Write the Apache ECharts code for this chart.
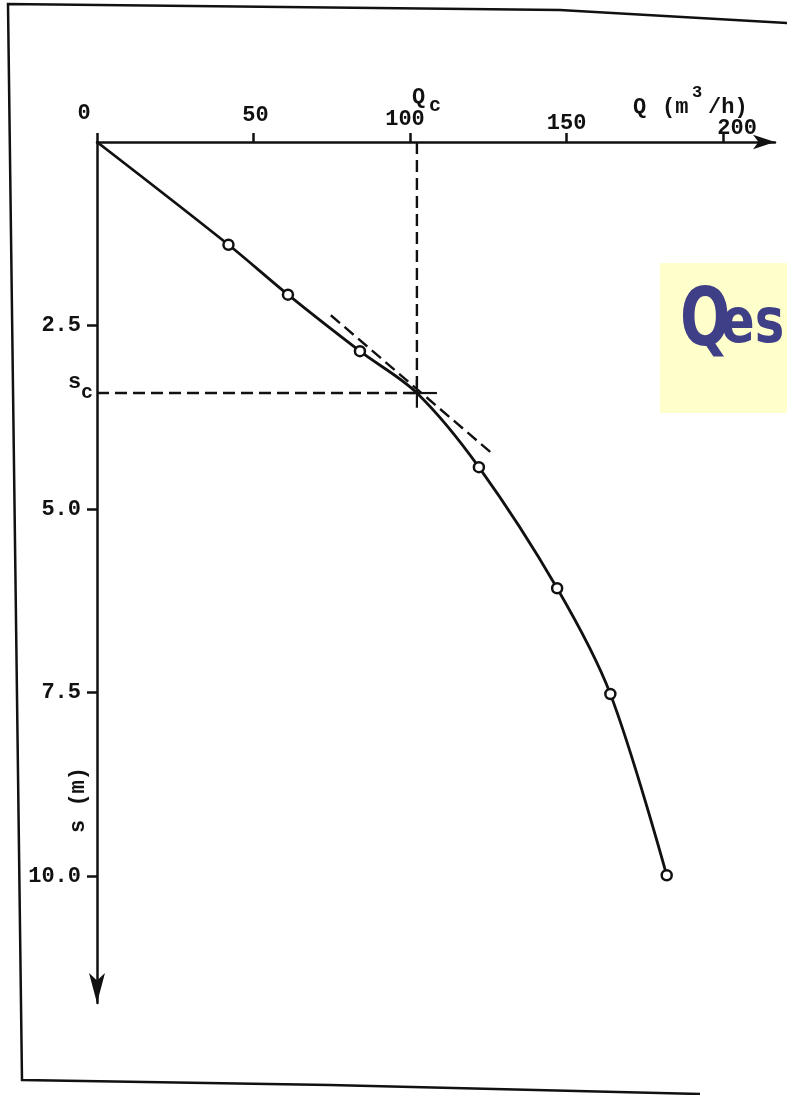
<!DOCTYPE html>
<html>
<head>
<meta charset="utf-8">
<script src="https://cdn.jsdelivr.net/npm/echarts@6/dist/echarts.min.js"></script>
<style>
  html, body { margin: 0; padding: 0; background: #fff; }
  #chart { width: 787px; height: 1095px; }
</style>
</head>
<body>
<div id="chart"></div>
<script>
// axis ticks
const qTicks = [0, 50, 100, 150, 200];
const sTicks = [2.5, 5, 7.5, 10];

// pumping test points: Q (m3/h) vs drawdown s (m)
const qPoints = [42, 61, 84, 122, 147, 164, 182];
const sPoints = [1.40, 2.08, 2.85, 4.43, 6.08, 7.52, 9.99];

// critical point and the tangent drawn through it
const qCrit = 102.2;
const sCrit = 3.42;
const tangentQ = [74.7, 126.1];
const tangentS = [2.36, 4.24];
const crossQ = [100, 108.6];
const crossS = [3.24, 3.62];

const FONT = '"Liberation Mono", "DejaVu Sans Mono", monospace';
const INK = '#111';

// the scanned top axis is a little tilted, so labels drift: [dx, label centre y]
const qLabelPos = { 0: [-13, 113], 50: [2, 115], 100: [-5, 119], 150: [0, 123], 200: [14, 128] };
const AXIS_TOP = 142, LABEL_MARGIN = 6;

const qRich = {};
qTicks.forEach(v => {
  const [dx, cy] = qLabelPos[v];
  qRich['t' + v] = {
    fontFamily: FONT, fontWeight: 'bold', fontSize: 22, color: INK,
    lineHeight: Math.max(2, 2 * (AXIS_TOP - LABEL_MARGIN - cy)),
    padding: [0, dx < 0 ? -2 * dx : 0, 0, dx > 0 ? 2 * dx : 0]
  };
});

// curve runs from the origin through the points, passing the critical point
const curve = [{ value: [0, 0], symbol: 'none' }];
qPoints.forEach((q, i) => {
  const last = curve[curve.length - 1].value[0];
  if (last < qCrit && q > qCrit) curve.push({ value: [qCrit, sCrit], symbol: 'none' });
  curve.push({ value: [q, sPoints[i]] });
});

function seg(data, dashed, width) {
  return {
    type: 'line',
    data,
    symbol: 'none',
    silent: true,
    lineStyle: { color: INK, width: width || 2.4, type: dashed ? [12, 6] : 'solid' },
    z: 3
  };
}

const chart = echarts.init(document.getElementById('chart'));
chart.setOption({
  animation: false,
  backgroundColor: '#fff',
  grid: { left: 97, top: AXIS_TOP, right: 12, bottom: 92 },
  xAxis: {
    type: 'value',
    position: 'top',
    min: 0,
    max: 216.6,
    splitLine: { show: false },
    axisLine: {
      lineStyle: { color: INK, width: 2.5 },
      symbol: ['none', 'arrow'],
      symbolSize: [11, 22]
    },
    axisTick: { customValues: qTicks, length: 9, lineStyle: { color: INK, width: 2.5 } },
    axisLabel: {
      customValues: qTicks,
      margin: LABEL_MARGIN,
      formatter: v => '{t' + v + '|' + v + '}',
      rich: qRich
    }
  },
  yAxis: {
    type: 'value',
    inverse: true,
    min: 0,
    max: 11.73,
    splitLine: { show: false },
    axisLine: {
      lineStyle: { color: INK, width: 2.5 },
      symbol: ['arrow', 'none'],
      symbolSize: [12, 30]
    },
    axisTick: { customValues: sTicks, length: 10, lineStyle: { color: INK, width: 2.5 } },
    axisLabel: {
      customValues: sTicks,
      margin: 16,
      color: INK,
      fontFamily: FONT,
      fontWeight: 'bold',
      fontSize: 22,
      formatter: v => v.toFixed(1)
    }
  },
  series: [
    {
      type: 'line',
      data: curve,
      smooth: 0.33,
      symbol: 'circle',
      symbolSize: 10,
      showAllSymbol: true,
      itemStyle: { color: '#fff', borderColor: INK, borderWidth: 2.5 },
      lineStyle: { color: INK, width: 2.8 },
      z: 5
    },
    seg([[qCrit, 0], [qCrit, sCrit]], true),
    seg([[0, sCrit], [qCrit, sCrit]], true),
    seg([[tangentQ[0], tangentS[0]], [tangentQ[1], tangentS[1]]], true),
    seg([[crossQ[0], sCrit], [crossQ[1], sCrit]], false, 2.2),
    seg([[qCrit, crossS[0]], [qCrit, crossS[1]]], false, 2.2)
  ],
  graphic: [
    {
      type: 'polyline',
      silent: true,
      shape: { points: [[787, 23], [560, 10], [8, 4], [22, 1080], [330, 1085], [700, 1094]] },
      style: { stroke: INK, lineWidth: 2.5, fill: null }
    },
    {
      type: 'rect',
      shape: { x: 660, y: 263, width: 140, height: 150 },
      style: { fill: '#ffffcc' }
    },
    {
      type: 'text', x: 680, y: 324, scaleX: 0.74,
      style: { text: 'Q', fill: '#3f3f88', font: 'bold 80px "DejaVu Sans", sans-serif', verticalAlign: 'middle' }
    },
    {
      type: 'text', x: 721, y: 326, scaleX: 0.8,
      style: { text: 'es', fill: '#3f3f88', font: 'bold 62px "DejaVu Sans", sans-serif', verticalAlign: 'middle' }
    },
    {
      type: 'text', x: 633, y: 96,
      style: { text: 'Q', fill: INK, font: 'bold 22px ' + FONT }
    },
    {
      type: 'text', x: 662, y: 96,
      style: { text: '(m', fill: INK, font: 'bold 22px ' + FONT }
    },
    {
      type: 'text', x: 692, y: 84,
      style: { text: '3', fill: INK, font: 'bold 17px ' + FONT }
    },
    {
      type: 'text', x: 708, y: 96,
      style: { text: '/h)', fill: INK, font: 'bold 22px ' + FONT }
    },
    {
      type: 'text', x: 412, y: 86,
      style: { text: 'Q', fill: INK, font: 'bold 22px ' + FONT }
    },
    {
      type: 'text', x: 429, y: 96,
      style: { text: 'c', fill: INK, font: 'bold 20px ' + FONT }
    },
    {
      type: 'text', x: 68, y: 371,
      style: { text: 's', fill: INK, font: 'bold 22px ' + FONT }
    },
    {
      type: 'text', x: 81, y: 383,
      style: { text: 'c', fill: INK, font: 'bold 20px ' + FONT }
    },
    {
      type: 'text', x: 78, y: 800, rotation: Math.PI / 2,
      style: { text: 's (m)', fill: INK, font: 'bold 22px ' + FONT, align: 'center', verticalAlign: 'middle' }
    }
  ]
});
</script>
</body>
</html>
